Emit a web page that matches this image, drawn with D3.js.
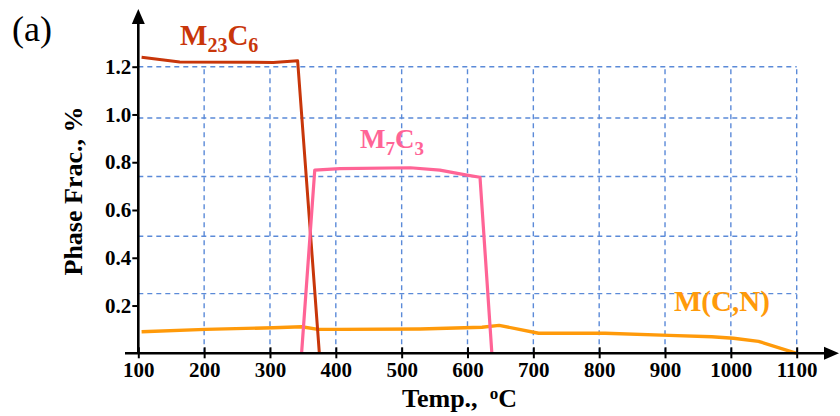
<!DOCTYPE html>
<html>
<head>
<meta charset="utf-8">
<script src="https://cdn.jsdelivr.net/npm/d3@7"></script>
<style>
  body { margin: 0; background: #fff; }
  svg text { font-family: "Liberation Serif", "Times New Roman", serif; }
</style>
</head>
<body>
<div id="chart"></div>
<script>
// data
const xTicks = [100, 200, 300, 400, 500, 600, 700, 800, 900, 1000, 1100];
const yTicks = [0.2, 0.4, 0.6, 0.8, 1.0, 1.2];
const gridX = [200, 300, 400, 500, 600, 700, 800, 900, 1000, 1100];
const gridY = [0.25, 0.49, 0.74, 0.985, 1.2];

const m23c6Temp = [105, 163, 305, 342, 375];
const m23c6Frac = [1.24, 1.22, 1.218, 1.225, 0.0];

const m7c3Temp = [348, 368, 406, 513, 558, 599, 619, 637];
const m7c3Frac = [0.0, 0.767, 0.773, 0.777, 0.767, 0.746, 0.737, 0.0];

const mcnTemp = [105, 202, 305, 348, 373, 405, 528, 622, 648, 708, 809, 906, 971, 1004, 1042, 1100];
const mcnFrac = [0.090, 0.100, 0.107, 0.111, 0.100, 0.100, 0.102, 0.109, 0.117, 0.084, 0.084, 0.075, 0.069, 0.063, 0.050, 0.0];

const width = 840;
const height = 416;

const svg = d3.select("#chart")
    .append("svg")
    .attr("width", width)
    .attr("height", height);

const x = d3.scaleLinear().domain([100, 1100]).range([138.3, 796.7]);
const y = d3.scaleLinear().domain([0, 1.2]).range([353.3, 66.7]);

// dashed grid
const grid = svg.append("g")
    .attr("stroke", "#5b8ad8")
    .attr("stroke-width", 1.4)
    .attr("stroke-dasharray", "5,4");

grid.selectAll("line.gx")
    .data(gridX)
    .enter().append("line")
    .attr("x1", d => x(d)).attr("x2", d => x(d))
    .attr("y1", y(0)).attr("y2", y(1.2));

grid.selectAll("line.gy")
    .data(gridY)
    .enter().append("line")
    .attr("x1", x(100)).attr("x2", x(1100))
    .attr("y1", d => y(d)).attr("y2", d => y(d));

// curves
const series = [
    { temp: mcnTemp, frac: mcnFrac, color: "#ff9a0a", w: 3.4 },
    { temp: m23c6Temp, frac: m23c6Frac, color: "#c8360a", w: 3.0 },
    { temp: m7c3Temp, frac: m7c3Frac, color: "#ff6496", w: 3.2 }
];

const line = d3.line()
    .x(d => x(d[0]))
    .y(d => y(d[1]));

series.forEach(s => {
    svg.append("path")
        .datum(s.temp.map((t, i) => [t, s.frac[i]]))
        .attr("fill", "none")
        .attr("stroke", s.color)
        .attr("stroke-width", s.w)
        .attr("stroke-linejoin", "round")
        .attr("d", line);
});

// axes
const xAxis = svg.append("g")
    .attr("transform", `translate(0,${y(0) - 6})`)
    .call(d3.axisBottom(x).tickValues(xTicks).tickSize(11).tickPadding(4).tickFormat(d3.format("d")));

const yAxis = svg.append("g")
    .attr("transform", `translate(${x(100)},0)`)
    .call(d3.axisLeft(y).tickValues(yTicks).tickSize(6).tickPadding(1).tickFormat(d3.format(".1f")));

[xAxis, yAxis].forEach(a => {
    a.select(".domain").remove();
    a.selectAll(".tick line").attr("stroke", "#000").attr("stroke-width", 2);
    a.selectAll(".tick text")
        .attr("fill", "#000")
        .style("font-size", "21px")
        .style("font-weight", "bold");
});

// axis lines with arrows
svg.append("line")
    .attr("x1", 125).attr("x2", 828)
    .attr("y1", y(0)).attr("y2", y(0))
    .attr("stroke", "#000").attr("stroke-width", 2.6);
svg.append("path")
    .attr("d", `M839,${y(0)} L824,${y(0) - 6.5} L824,${y(0) + 6.5} Z`)
    .attr("fill", "#000");

svg.append("line")
    .attr("x1", x(100)).attr("x2", x(100))
    .attr("y1", y(0)).attr("y2", 20)
    .attr("stroke", "#000").attr("stroke-width", 2.6);
svg.append("path")
    .attr("d", `M${x(100)},9 L${x(100) - 6.5},24 L${x(100) + 6.5},24 Z`)
    .attr("fill", "#000");

// axis titles
svg.append("text")
    .attr("transform", "translate(82,191) rotate(-90)")
    .attr("text-anchor", "middle")
    .style("font-size", "26px")
    .style("font-weight", "bold")
    .text("Phase Frac., %");

const xt = svg.append("text")
    .attr("x", 402).attr("y", 407)
    .style("font-size", "26px")
    .style("font-weight", "bold");
xt.append("tspan").text("Temp.,");
xt.append("tspan").attr("dx", 12).attr("dy", -8).style("font-size", "17px").text("o");
xt.append("tspan").attr("dy", 8).text("C");

// panel letter
svg.append("text")
    .attr("x", 12).attr("y", 41)
    .style("font-size", "36px")
    .text("(a)");

// phase labels
function phaseLabel(px, py, size, color, parts) {
    const t = svg.append("text")
        .attr("x", px).attr("y", py)
        .attr("fill", color)
        .style("font-size", size + "px")
        .style("font-weight", "bold");
    let shift = 0;
    parts.forEach(p => {
        const sp = t.append("tspan").text(p[0]);
        const target = p[1] ? Math.round(size * 0.25) : 0;
        sp.attr("dy", target - shift);
        if (p[1]) sp.style("font-size", Math.round(size * 0.7) + "px");
        shift = target;
    });
}

phaseLabel(180, 45, 29, "#c8360a", [["M", false], ["23", true], ["C", false], ["6", true]]);
phaseLabel(360, 148, 27, "#ff6496", [["M", false], ["7", true], ["C", false], ["3", true]]);
phaseLabel(674, 311, 29, "#ff9a0a", [["M(C,N)", false]]);
</script>
</body>
</html>
